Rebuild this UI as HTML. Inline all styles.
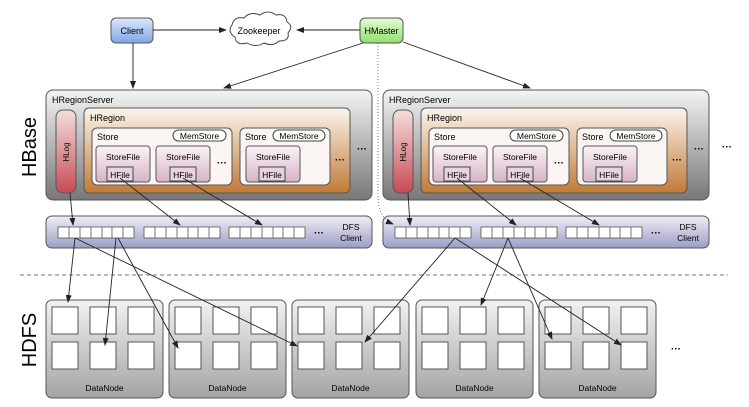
<!DOCTYPE html><html><head><style>body{margin:0;background:#fff}svg{display:block}text{font-family:"Liberation Sans",sans-serif}</style></head><body>
<svg width="749" height="407" viewBox="0 0 749 407" xmlns="http://www.w3.org/2000/svg">
<defs>
<linearGradient id="srv" x1="0" y1="0" x2="0" y2="1"><stop offset="0" stop-color="#f4f4f4"/><stop offset="1" stop-color="#777"/></linearGradient>
<linearGradient id="reg" x1="0" y1="0" x2="0" y2="1"><stop offset="0" stop-color="#fbf5ee"/><stop offset="1" stop-color="#c07a35"/></linearGradient>
<linearGradient id="log" x1="0" y1="0" x2="0" y2="1"><stop offset="0" stop-color="#f3dede"/><stop offset="1" stop-color="#c94a55"/></linearGradient>
<linearGradient id="sf" x1="0" y1="0" x2="0" y2="1"><stop offset="0" stop-color="#fbf4f7"/><stop offset="1" stop-color="#d7b3c6"/></linearGradient>
<linearGradient id="dfs" x1="0" y1="0" x2="0" y2="1"><stop offset="0" stop-color="#eeeef8"/><stop offset="1" stop-color="#9d9dc4"/></linearGradient>
<linearGradient id="dn" x1="0" y1="0" x2="0" y2="1"><stop offset="0" stop-color="#f2f2f2"/><stop offset="1" stop-color="#a4a4a4"/></linearGradient>
<linearGradient id="cl" x1="0" y1="0" x2="0" y2="1"><stop offset="0" stop-color="#dde8fb"/><stop offset="1" stop-color="#7fa5e8"/></linearGradient>
<linearGradient id="hm" x1="0" y1="0" x2="0" y2="1"><stop offset="0" stop-color="#e6fbd8"/><stop offset="1" stop-color="#8ee06a"/></linearGradient>
<marker id="a" markerWidth="8" markerHeight="8" refX="7" refY="4" orient="auto" markerUnits="userSpaceOnUse"><path d="M0,1 L8,4 L0,7z" fill="#222"/></marker>
<g id="server">
<rect x="46" y="90" width="326" height="110" rx="7" fill="url(#srv)" stroke="#555"/>
<text x="52" y="103" font-size="9">HRegionServer</text>
<rect x="56" y="110" width="20" height="83" rx="7" fill="url(#log)" stroke="#555"/>
<text transform="translate(69,152) rotate(-90)" font-size="8" text-anchor="middle">HLog</text>
<rect x="84" y="108" width="266" height="85" rx="5" fill="url(#reg)" stroke="#555"/>
<text x="90" y="121" font-size="9">HRegion</text>
<rect x="92" y="128" width="140" height="57" rx="5" fill="#fbf6f3" stroke="#555"/>
<text x="97" y="140" font-size="9">Store</text>
<rect x="173" y="130" width="53" height="11" rx="5.5" fill="#fff" stroke="#444"/>
<text x="199.5" y="139" font-size="8.5" text-anchor="middle">MemStore</text>
<rect x="96" y="146" width="54" height="36" rx="3" fill="url(#sf)" stroke="#555"/>
<text x="123" y="160" font-size="8.5" text-anchor="middle">StoreFile</text>
<rect x="107" y="167" width="26" height="14" fill="#e8d3de" stroke="#444"/>
<text x="120" y="178" font-size="8.5" text-anchor="middle">HFile</text>
<rect x="156" y="146" width="54" height="36" rx="3" fill="url(#sf)" stroke="#555"/>
<text x="183" y="160" font-size="8.5" text-anchor="middle">StoreFile</text>
<rect x="170" y="167" width="26" height="14" fill="#e8d3de" stroke="#444"/>
<text x="183" y="178" font-size="8.5" text-anchor="middle">HFile</text>
<text x="222" y="166" font-size="10" font-weight="bold" text-anchor="middle">···</text>
<rect x="240" y="128" width="90" height="57" rx="5" fill="#fbf6f3" stroke="#555"/>
<text x="245" y="140" font-size="9">Store</text>
<rect x="273" y="130" width="52" height="11" rx="5.5" fill="#fff" stroke="#444"/>
<text x="299" y="139" font-size="8.5" text-anchor="middle">MemStore</text>
<rect x="246" y="146" width="54" height="36" rx="3" fill="url(#sf)" stroke="#555"/>
<text x="273" y="160" font-size="8.5" text-anchor="middle">StoreFile</text>
<rect x="259" y="167" width="26" height="14" fill="#e8d3de" stroke="#444"/>
<text x="272" y="178" font-size="8.5" text-anchor="middle">HFile</text>
<text x="340" y="163" font-size="10" font-weight="bold" text-anchor="middle">···</text>
<text x="362" y="152" font-size="10" font-weight="bold" text-anchor="middle">···</text>
<rect x="46" y="216" width="326" height="32" rx="6" fill="url(#dfs)" stroke="#555"/>
<g fill="#fff" stroke="#555" stroke-width="0.8">
<rect x="58" y="227" width="76" height="11"/><rect x="144" y="227" width="76" height="11"/><rect x="229" y="227" width="76" height="11"/></g>
<path d="M69,227v11M80,227v11M91,227v11M102,227v11M112,227v11M123,227v11M155,227v11M166,227v11M177,227v11M188,227v11M198,227v11M209,227v11M240,227v11M251,227v11M262,227v11M273,227v11M283,227v11M294,227v11" stroke="#555" stroke-width="0.8"/>
<text x="319" y="236" font-size="10" font-weight="bold" text-anchor="middle">···</text>
<text x="351" y="230" font-size="8.5" text-anchor="middle">DFS</text>
<text x="351" y="241" font-size="8.5" text-anchor="middle">Client</text>
</g>
<g id="dnode">
<rect x="46" y="300" width="117" height="98" rx="6" fill="url(#dn)" stroke="#555"/>
<g fill="#fff" stroke="#555"><rect x="52" y="307" width="26" height="27"/><rect x="90" y="307" width="26" height="27"/><rect x="128" y="307" width="26" height="27"/><rect x="52" y="342" width="26" height="27"/><rect x="90" y="342" width="26" height="27"/><rect x="128" y="342" width="26" height="27"/></g>
<text x="104.5" y="391" font-size="8.5" text-anchor="middle">DataNode</text>
</g>
</defs>
<use href="#server"/>
<use href="#server" x="337"/>
<use href="#dnode"/><use href="#dnode" x="123"/><use href="#dnode" x="246"/><use href="#dnode" x="370"/><use href="#dnode" x="493"/>
<text x="676" y="352" font-size="10" font-weight="bold" text-anchor="middle">···</text>
<text x="727" y="150" font-size="10" font-weight="bold" text-anchor="middle">···</text>
<text transform="translate(36,147) rotate(-90)" font-size="20" text-anchor="middle">HBase</text>
<text transform="translate(36,340) rotate(-90)" font-size="20" text-anchor="middle">HDFS</text>
<line x1="20" y1="275" x2="728" y2="275" stroke="#777" stroke-dasharray="4,3"/>
<path d="M378,43 V195 Q378,218 393,224" fill="none" stroke="#777" stroke-dasharray="1,2" marker-end="url(#a)"/>
<rect x="111" y="18" width="42" height="25" rx="5" fill="url(#cl)" stroke="#555"/>
<text x="132" y="34" font-size="9" text-anchor="middle">Client</text>
<rect x="360" y="18" width="43" height="25" rx="5" fill="url(#hm)" stroke="#555"/>
<text x="381.5" y="34" font-size="9" text-anchor="middle">HMaster</text>
<path d="M232,25 q2,-9 12,-7 q6,-7 16,-3 q8,-6 16,0 q10,-2 11,7 q7,4 1,11 q2,8 -9,8 q-6,6 -15,2 q-8,5 -17,0 q-11,3 -12,-6 q-8,-5 -3,-12z" fill="#fff" stroke="#444"/>
<text x="259" y="34" font-size="9" text-anchor="middle">Zookeeper</text>
<g stroke="#222" stroke-width="0.9" fill="none" marker-end="url(#a)">
<line x1="153" y1="30" x2="226" y2="30"/>
<line x1="360" y1="30" x2="297" y2="30"/>
<line x1="133" y1="43" x2="133" y2="88"/>
<line x1="363" y1="43" x2="224" y2="88"/>
<line x1="403" y1="42" x2="530" y2="88"/>
<line x1="70" y1="193" x2="73" y2="225"/>
<line x1="120" y1="178" x2="180" y2="225"/>
<line x1="183" y1="178" x2="262" y2="225"/>
<line x1="408" y1="193" x2="410" y2="225"/>
<line x1="457" y1="178" x2="516" y2="225"/>
<line x1="520" y1="178" x2="599" y2="225"/>
<line x1="75" y1="238" x2="68" y2="302"/>
<line x1="75" y1="238" x2="297" y2="346"/>
<line x1="116" y1="238" x2="105" y2="345"/>
<line x1="118" y1="238" x2="178" y2="348"/>
<line x1="455" y1="238" x2="365" y2="342"/>
<line x1="455" y1="238" x2="621" y2="345"/>
<line x1="508" y1="238" x2="481" y2="305"/>
<line x1="508" y1="238" x2="552" y2="339"/>
</g>
</svg>
</body></html>
